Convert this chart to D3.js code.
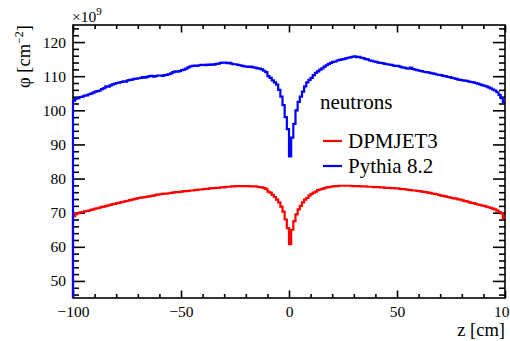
<!DOCTYPE html>
<html>
<head>
<meta charset="utf-8">
<script src="https://cdn.jsdelivr.net/npm/d3@7"></script>
<style>
  html, body { margin: 0; padding: 0; background: #fff; }
</style>
</head>
<body>
<svg id="chart" width="510" height="341"></svg>
<script>
// ---- data: flux per 1 cm bin in z, from -100 to +100 cm (units of 1e9 cm^-2) ----
const zMin = -100, zMax = 100, binWidth = 1;
const seriesNames = ["DPMJET3", "Pythia 8.2"];
const seriesColors = ["#ff0000", "#0000ff"];
const legendTitle = "neutrons";

const dpmjet3 = [
  69.0, 69.6, 69.9, 70.1, 70.2, 70.4, 70.5, 70.6, 70.8, 71.0,
  71.2, 71.3, 71.5, 71.7, 71.8, 72.0, 72.1, 72.3, 72.5, 72.6,
  72.8, 72.9, 73.1, 73.2, 73.4, 73.5, 73.7, 73.8, 74.0, 74.1,
  74.3, 74.4, 74.5, 74.6, 74.7, 74.8, 74.9, 75.0, 75.2, 75.3,
  75.4, 75.5, 75.6, 75.6, 75.7, 75.8, 75.9, 76.0, 76.0, 76.1,
  76.2, 76.3, 76.3, 76.4, 76.5, 76.5, 76.6, 76.7, 76.8, 76.8,
  76.9, 77.0, 77.0, 77.1, 77.2, 77.2, 77.3, 77.3, 77.4, 77.4,
  77.5, 77.6, 77.6, 77.7, 77.7, 77.8, 77.8, 77.8, 77.8, 77.8,
  77.8, 77.8, 77.7, 77.7, 77.7, 77.6, 77.5, 77.4, 77.2, 77.0,
  76.2, 75.9, 75.2, 74.6, 73.8, 73.0, 71.8, 70.3, 68.0, 65.5,
  60.8, 65.0, 67.5, 69.5, 71.0, 72.0, 73.0, 73.8, 74.3, 75.0,
  75.5, 75.9, 76.2, 76.6, 76.8, 77.0, 77.2, 77.4, 77.5, 77.6,
  77.7, 77.8, 77.8, 77.9, 77.9, 77.9, 77.9, 77.9, 77.9, 77.8,
  77.8, 77.8, 77.8, 77.7, 77.7, 77.7, 77.6, 77.6, 77.6, 77.5,
  77.5, 77.5, 77.4, 77.4, 77.3, 77.3, 77.3, 77.2, 77.2, 77.1,
  77.1, 77.0, 76.9, 76.9, 76.8, 76.7, 76.6, 76.5, 76.5, 76.4,
  76.3, 76.2, 76.1, 76.0, 75.9, 75.8, 75.6, 75.5, 75.4, 75.2,
  75.0, 74.9, 74.8, 74.6, 74.5, 74.3, 74.2, 74.1, 73.9, 73.8,
  73.6, 73.4, 73.3, 73.1, 72.9, 72.8, 72.6, 72.4, 72.3, 72.1,
  72.0, 71.8, 71.6, 71.4, 71.2, 71.0, 70.6, 70.2, 69.8, 68.5
];

const pythia82 = [
  102.8, 103.4, 103.6, 103.9, 104.0, 104.3, 104.4, 104.7, 104.9, 105.2,
  105.5, 105.6, 105.8, 106.2, 106.5, 107.0, 106.9, 107.3, 107.6, 107.8,
  108.0, 108.1, 108.3, 108.5, 108.4, 108.8, 108.9, 109.0, 109.2, 109.3,
  109.4, 109.5, 109.7, 109.6, 109.8, 110.0, 110.1, 109.9, 110.0, 110.2,
  110.2, 110.1, 110.3, 110.4, 110.6, 110.8, 111.2, 111.4, 111.3, 111.5,
  111.8, 111.9, 112.2, 112.6, 112.9, 113.0, 113.1, 113.0, 113.2, 113.3,
  113.3, 113.2, 113.4, 113.3, 113.5, 113.4, 113.6, 113.7, 113.9, 114.0,
  114.0, 113.8, 113.9, 113.7, 113.5, 113.5, 113.3, 113.2, 113.0, 112.9,
  112.8, 112.7, 112.8, 112.6, 112.5, 112.3, 112.2, 112.0, 111.6, 111.2,
  110.0, 109.5, 108.8, 108.2, 107.5, 106.0, 104.0, 101.5, 98.0, 94.5,
  86.5, 92.0, 96.0, 100.0, 102.5, 104.0, 105.5, 107.0, 108.2, 108.9,
  109.5, 110.3, 111.0, 111.4, 111.9, 112.3, 112.8, 113.2, 113.6, 113.9,
  114.2, 114.3, 114.6, 114.8, 114.9, 115.0, 115.2, 115.4, 115.5, 115.7,
  115.8, 115.6, 115.7, 115.4, 115.3, 115.0, 114.9, 114.6, 114.5, 114.3,
  114.2, 114.0, 113.9, 113.8, 113.6, 113.5, 113.4, 113.3, 113.1, 113.0,
  113.0, 112.8, 112.6, 112.5, 112.3, 112.2, 112.5, 112.1, 111.9, 111.8,
  111.6, 111.5, 111.3, 111.2, 111.1, 111.0, 110.8, 110.7, 110.5, 110.4,
  110.3, 110.1, 110.0, 109.8, 109.7, 109.5, 109.4, 109.2, 109.0, 108.9,
  108.8, 108.7, 108.6, 108.4, 108.3, 108.2, 108.0, 107.8, 107.6, 107.4,
  107.2, 107.0, 106.7, 106.4, 106.1, 105.8, 105.3, 104.5, 103.6, 102.5
];

const xMajorTicks = [-100, -50, 0, 50, 100];
const yMajorTicks = [50, 60, 70, 80, 90, 100, 110, 120];
const yDomain = [45, 125];

// ---- layout ----
const FONT = "'Liberation Serif', 'Times New Roman', Times, 'DejaVu Serif', serif";
const svg = d3.select("#chart");
const L = 73, R = 505, T = 25, B = 298;

const x = d3.scaleLinear().domain([zMin, zMax]).range([L, R]);
const y = d3.scaleLinear().domain(yDomain).range([B, T]);

// frame
svg.append("rect").attr("x", L).attr("y", T).attr("width", R - L).attr("height", B - T)
  .attr("fill", "none").attr("stroke", "#000").attr("stroke-width", 1.6);

// axes with ROOT-like inward ticks (major + minor), mirrored on opposite sides
const yMinor = d3.range(46, 125, 2).filter(v => !yMajorTicks.includes(v));
const xMinor = d3.range(-90, 100, 10).filter(v => !xMajorTicks.includes(v));

function addAxis(axisGen, tx, ty) {
  const g = svg.append("g").attr("transform", `translate(${tx},${ty})`).call(axisGen);
  g.select(".domain").remove();
  g.selectAll("line").attr("stroke", "#000").attr("stroke-width", 1.6);
  g.attr("font-family", FONT);
  return g;
}
// left
const gyL = addAxis(d3.axisLeft(y).tickValues(yMajorTicks).tickSize(-12).tickPadding(7).tickFormat(d3.format("d")), L, 0);
gyL.selectAll("text").attr("font-size", 15.5).attr("fill", "#000").style("font-family", FONT);
addAxis(d3.axisLeft(y).tickValues(yMinor).tickSize(-6).tickFormat(""), L, 0);
// right
addAxis(d3.axisRight(y).tickValues(yMajorTicks).tickSize(-12).tickFormat(""), R, 0);
addAxis(d3.axisRight(y).tickValues(yMinor).tickSize(-6).tickFormat(""), R, 0);
// bottom
const gxB = addAxis(d3.axisBottom(x).tickValues(xMajorTicks).tickSize(-7.5).tickPadding(8)
  .tickFormat(d => d < 0 ? "\u2212" + Math.abs(d) : d), 0, B);
gxB.selectAll("text").attr("font-size", 15.5).attr("fill", "#000").style("font-family", FONT);
addAxis(d3.axisBottom(x).tickValues(xMinor).tickSize(-4).tickFormat(""), 0, B);
// top
addAxis(d3.axisTop(x).tickValues(xMajorTicks).tickSize(-7.5).tickFormat(""), 0, T);
addAxis(d3.axisTop(x).tickValues(xMinor).tickSize(-4).tickFormat(""), 0, T);

// histograms as step lines
function stepPoints(vals) {
  const pts = [[zMin, yDomain[0]]];
  vals.forEach((v, i) => pts.push([zMin + i * binWidth, v]));
  pts.push([zMin + vals.length * binWidth, vals[vals.length - 1]]);
  return pts;
}
const line = d3.line().x(d => x(d[0])).y(d => y(d[1])).curve(d3.curveStepAfter);
const clip = svg.append("clipPath").attr("id", "clipc");
clip.append("rect").attr("x", L - 2).attr("y", T).attr("width", R - L + 2).attr("height", B - T);

[dpmjet3, pythia82].forEach((vals, k) => {
  svg.append("path").attr("d", line(stepPoints(vals)))
    .attr("fill", "none").attr("stroke", seriesColors[k]).attr("stroke-width", 2.2)
    .attr("clip-path", "url(#clipc)");
});

// axis titles
svg.append("text").attr("x", R).attr("y", 336).attr("text-anchor", "end")
  .attr("font-size", 18.5).attr("fill", "#000").style("font-family", FONT).text("z [cm]");

const yt = svg.append("text").attr("transform", `translate(30,${T}) rotate(-90)`)
  .attr("text-anchor", "end").attr("font-size", 18.5).attr("fill", "#000").style("font-family", FONT);
yt.append("tspan").text("\u03c6 [cm");
yt.append("tspan").attr("dy", -7).attr("font-size", 12).text("\u22122");
yt.append("tspan").attr("dy", 7).text("]");

const ex = svg.append("text").attr("x", 72).attr("y", 22).attr("font-size", 15.5).attr("fill", "#000").style("font-family", FONT);
ex.append("tspan").text("\u00d710");
ex.append("tspan").attr("dy", -7).attr("font-size", 11).text("9");

// legend
svg.append("text").attr("x", 320).attr("y", 109).attr("font-size", 21).attr("fill", "#000")
  .style("font-family", FONT).text(legendTitle);
const legY = [141, 166];
seriesNames.forEach((name, k) => {
  svg.append("line").attr("x1", 323).attr("x2", 342).attr("y1", legY[k]).attr("y2", legY[k])
    .attr("stroke", seriesColors[k]).attr("stroke-width", 2.2);
  svg.append("text").attr("x", 348).attr("y", legY[k] + 7).attr("font-size", 21).attr("fill", "#000")
    .style("font-family", FONT).text(name);
});
</script>
</body>
</html>
